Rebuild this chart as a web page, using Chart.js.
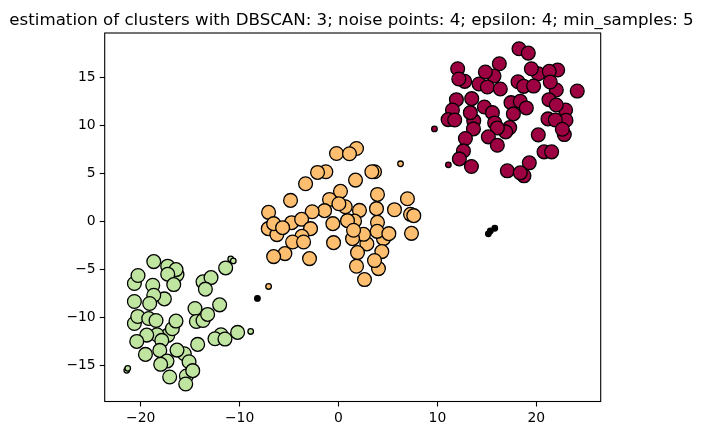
<!DOCTYPE html>
<html>
<head>
<meta charset="utf-8">
<title>DBSCAN clusters</title>
<script src="https://cdn.jsdelivr.net/npm/chart.js@4/dist/chart.umd.min.js"></script>
<style>
    html, body { margin: 0; padding: 0; background: #fff; }
    canvas { display: block; }
</style>
</head>
<body>
<canvas id="chart" width="703" height="435"></canvas>
<script>
const titleText = 'estimation of clusters with DBSCAN: 3; noise points: 4; epsilon: 4; min_samples: 5';
const xTicks = [-20, -10, 0, 10, 20];
const yTicks = [-15, -10, -5, 0, 5, 10, 15];

// core points, [x, y]
const redCore = [[18.25,17.96],[19.19,17.51],[12.05,15.88],[16.26,16.40],[15.72,15.12],[14.85,15.54],[20.20,15.36],[19.50,15.88],[22.16,15.75],[21.31,15.61],
    [12.76,14.57],[12.16,14.81],[14.21,14.29],[15.05,13.98],[16.36,13.77],[18.15,14.53],[18.72,14.05],[19.73,14.08],[22.02,13.67],[21.41,14.50],[24.14,13.56],
    [11.92,12.66],[13.47,12.77],[17.44,12.35],[18.38,12.49],[21.28,12.66],[22.96,11.59],[22.02,12.11],[14.75,11.90],[18.99,11.80],[11.52,11.59],[13.67,10.48],[13.33,11.31],
    [15.56,11.31],[17.68,11.18],[11.08,10.59],[11.75,10.55],[21.18,10.66],[23.00,10.52],[21.92,10.55],[15.79,10.24],[17.31,9.76],[16.90,9.31],[16.06,9.72],[13.64,9.62],
    [22.83,9.03],[22.63,9.58],[15.15,8.79],[20.20,9.00],[12.83,8.62],[16.06,7.92],[12.63,7.33],[20.78,7.23],[21.55,7.23],[12.22,6.50],[13.44,5.71],[19.29,6.09],
    [17.07,5.26],[18.75,4.74],[18.38,5.05]];
const redEdge = [[9.70,9.62],[11.11,5.88]];

const orangeCore = [[1.82,7.58],[-0.20,7.06],[1.11,7.03],[-1.28,5.16],[-2.12,5.09],[-3.33,3.91],[1.72,4.29],[3.64,5.16],[3.37,5.16],[0.20,3.12],[3.94,2.80],[6.97,2.35],
    [-4.85,2.18],[0.68,1.52],[-0.91,2.28],[0.04,1.83],[2.12,1.14],[3.84,1.32],[5.66,1.21],[-1.41,1.11],[-2.66,1.00],[-7.07,0.94],[7.28,0.73],[7.61,0.59],[-4.74,-0.14],
    [-3.73,0.21],[-7.10,-0.76],[-6.23,-1.38],[-6.56,-0.24],[-5.65,-0.66],[-2.83,-0.76],[-0.57,-0.24],[1.62,0.03],[0.91,0.07],[3.94,-0.10],[4.55,-1.80],[3.91,-1.04],
    [2.87,-2.35],[2.53,-1.35],[1.42,-1.80],[1.52,-0.93],[5.09,-1.28],[7.38,-1.25],[-3.70,-1.56],[-4.64,-2.15],[-3.53,-2.15],[-0.50,-2.22],[4.38,-3.15],[1.92,-3.25],
    [-5.42,-3.36],[-6.56,-3.67],[-2.93,-3.88],[4.04,-4.92],[3.64,-4.08],[1.82,-4.67],[2.63,-6.06]];
const orangeEdge = [[-7.07,-6.78],[6.27,5.99]];

const greenCore = [[-18.68,-4.19],[-17.27,-4.67],[-16.33,-5.54],[-16.43,-5.02],[-17.27,-5.50],[-20.64,-6.47],[-20.27,-5.64],[-18.78,-6.65],[-16.66,-6.58],[-17.61,-8.07],[-18.68,-7.69],
    [-20.64,-8.34],[-19.09,-8.55],[-20.64,-10.63],[-20.30,-9.90],[-19.19,-10.11],[-18.45,-10.32],[-17.27,-11.87],[-16.80,-11.18],[-16.43,-10.38],[-18.35,-11.80],[-19.39,-11.84],
    [-20.40,-12.50],[-17.87,-12.39],[-18.07,-13.43],[-19.52,-13.85],[-15.59,-13.78],[-16.33,-13.40],[-15.11,-14.61],[-17.34,-14.54],[-17.98,-14.88],[-15.38,-16.10],[-14.74,-15.54],
    [-17.07,-16.20],[-15.45,-16.93],[-14.24,-12.81],[-14.51,-9.07],[-14.37,-10.42],[-13.70,-10.32],[-13.23,-9.69],[-12.02,-8.69],[-13.70,-6.30],[-12.89,-5.85],[-13.46,-7.06],
    [-11.41,-4.85],[-11.88,-11.80],[-12.49,-12.22],[-11.48,-12.25],[-10.20,-11.56]];
const greenEdge = [[-10.90,-3.91],[-10.64,-4.12],[-8.88,-11.46],[-21.41,-15.51],[-21.31,-15.30]];

const noisePoints = [[-8.20,-8.02],[15.80,-0.72],[15.35,-1.00],[15.15,-1.30]];

function toPoints(rows) {
    return rows.map(r => ({ x: r[0], y: r[1] }));
}

// matplotlib draws in call order, chart.js draws higher "order" first
function pointSet(label, rows, color, radius, drawOrder) {
    return {
        label: label,
        data: toPoints(rows),
        backgroundColor: color,
        borderColor: '#000',
        borderWidth: 1.3,
        pointRadius: radius,
        pointHoverRadius: radius,
        order: drawOrder
    };
}

const frame = {
    id: 'frame',
    afterDraw(chart) {
        const a = chart.chartArea;
        const ctx = chart.ctx;
        ctx.save();
        ctx.strokeStyle = '#000';
        ctx.lineWidth = 1.1;
        ctx.strokeRect(a.left, a.top, a.right - a.left, a.bottom - a.top);
        ctx.restore();
    }
};

function tickLabel(v) {
    return String(v).replace('-', '\u2212');
}

new Chart(document.getElementById('chart'), {
    type: 'scatter',
    plugins: [frame],
    data: {
        datasets: [
            pointSet('noise', noisePoints, '#000000', 2.78, 1),
            pointSet('cluster 3 edge', greenEdge, '#bfe5a0', 2.78, 2),
            pointSet('cluster 3', greenCore, '#bfe5a0', 6.9, 3),
            pointSet('cluster 2 edge', orangeEdge, '#fdbf6f', 2.78, 4),
            pointSet('cluster 2', orangeCore, '#fdbf6f', 6.9, 5),
            pointSet('cluster 1 edge', redEdge, '#9e0142', 2.78, 6),
            pointSet('cluster 1', redCore, '#9e0142', 6.9, 7)
        ]
    },
    options: {
        responsive: false,
        animation: false,
        devicePixelRatio: 1,
        plugins: {
            legend: { display: false },
            tooltip: { enabled: false },
            title: {
                display: true,
                text: titleText,
                color: '#000',
                font: { family: '"DejaVu Sans"', size: 16.67, weight: 'normal', lineHeight: 1.2 },
                padding: { top: 11, bottom: 2 }
            }
        },
        scales: {
            x: {
                type: 'linear',
                min: -23.64,
                max: 26.51,
                afterBuildTicks(scale) { scale.ticks = xTicks.map(v => ({ value: v })); },
                afterFit(scale) { scale.height = 33.5; },
                border: { display: false },
                grid: { drawOnChartArea: false, tickColor: '#000', tickLength: 5, tickWidth: 1.1 },
                ticks: {
                    color: '#000',
                    font: { family: '"DejaVu Sans"', size: 13.9 },
                    padding: 4,
                    maxRotation: 0,
                    autoSkip: false,
                    callback: tickLabel
                }
            },
            y: {
                type: 'linear',
                min: -18.75,
                max: 19.6,
                afterBuildTicks(scale) { scale.ticks = yTicks.map(v => ({ value: v })); },
                afterFit(scale) { scale.width = 104.7; },
                border: { display: false },
                grid: { drawOnChartArea: false, tickColor: '#000', tickLength: 5, tickWidth: 1.1 },
                ticks: {
                    color: '#000',
                    font: { family: '"DejaVu Sans"', size: 13.9 },
                    padding: 4,
                    autoSkip: false,
                    callback: tickLabel
                }
            },
            // empty axis, only keeps the white margin right of the plot
            spacer: {
                type: 'linear',
                position: 'right',
                afterFit(scale) { scale.width = 102.3; },
                border: { display: false },
                grid: { display: false },
                ticks: { display: false }
            }
        }
    }
});
</script>
</body>
</html>
